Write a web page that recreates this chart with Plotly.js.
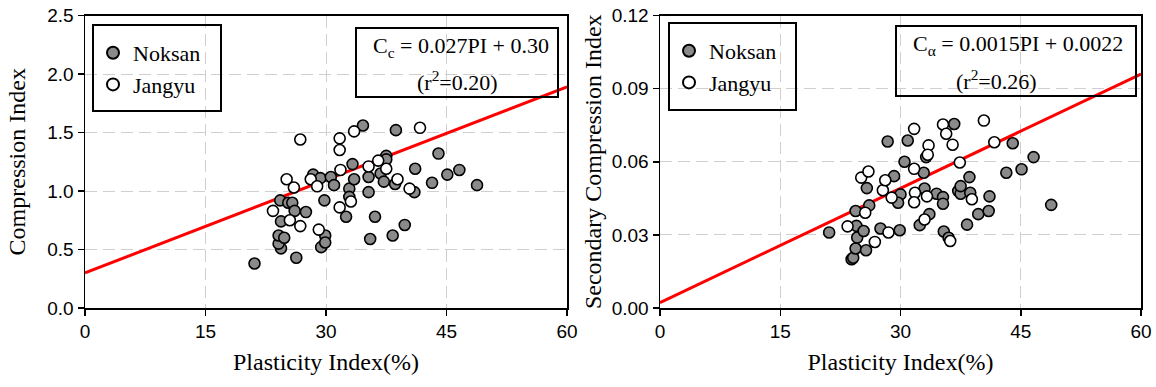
<!DOCTYPE html>
<html><head><meta charset="utf-8">
<script src="https://cdn.plot.ly/plotly-3.0.1.min.js"></script>
<style>html,body{margin:0;padding:0;background:#fff}#chart{width:1156px;height:387px}</style>
</head><body><div id="chart"></div>
<script>
// ---- Data ----
const ccNoksanPI = [21.1,26.3,24.4,24.1,24.1,24.8,24.4,24.3,25.3,25.8,26.1,27.5,28.4,29.3,29.8,29.9,29.4,29.9,30.6,31.0,32.5,32.9,32.9,33.3,33.5,34.6,35.3,35.3,35.5,36.1,36.8,37.2,37.5,37.5,38.6,38.7,38.3,39.8,41.1,41.0,43.2,44.0,45.1,46.6,48.8];
const ccNoksan   = [0.38,0.43,0.51,0.55,0.62,0.60,0.74,0.92,0.90,0.90,0.83,0.82,1.14,1.11,0.92,0.62,0.52,0.56,1.12,1.05,0.78,1.02,0.95,1.23,1.10,1.56,1.12,0.99,0.59,0.78,1.15,1.08,1.30,1.27,1.06,1.52,0.62,0.71,1.19,0.99,1.07,1.32,1.14,1.18,1.05];
const ccJangyuPI = [23.4,25.1,26.0,25.5,26.8,26.8,28.1,28.9,29.1,31.7,31.7,31.8,31.7,33.1,33.5,35.3,36.5,37.5,38.9,40.4,41.7];
const ccJangyu   = [0.83,1.10,1.03,0.75,0.70,1.44,1.10,1.04,0.67,1.45,1.35,1.18,0.86,0.91,1.51,1.21,1.26,1.19,1.10,1.02,1.54];

const caNoksanPI = [21.1,23.9,24.1,24.4,24.6,24.5,24.4,25.4,25.7,25.8,26.1,27.5,28.4,29.2,30.0,29.7,29.9,30.5,30.9,32.4,32.9,33.0,33.2,33.6,34.5,35.3,35.3,35.4,36.0,36.7,37.2,37.5,37.5,38.6,38.7,38.3,39.7,41.0,41.1,43.2,44.0,45.1,46.6,48.8];
const caNoksan   = [0.0310,0.0200,0.0206,0.0244,0.0289,0.0337,0.0398,0.0316,0.0237,0.0492,0.0421,0.0326,0.0683,0.0541,0.0466,0.0432,0.0319,0.0600,0.0687,0.0340,0.0555,0.0490,0.0619,0.0385,0.0469,0.0455,0.0428,0.0314,0.0288,0.0755,0.0480,0.0469,0.0500,0.0537,0.0473,0.0342,0.0385,0.0398,0.0458,0.0555,0.0676,0.0569,0.0619,0.0423];
const caJangyuPI = [23.4,25.1,26.0,25.6,26.8,27.8,28.1,28.9,28.5,31.7,31.7,31.8,31.7,33.3,33.0,33.5,33.4,35.3,35.7,36.5,36.2,37.4,38.9,40.4,41.7];
const caJangyu   = [0.0335,0.0535,0.0560,0.0391,0.0271,0.0483,0.0524,0.0453,0.0310,0.0735,0.0571,0.0473,0.0434,0.0458,0.0363,0.0667,0.0629,0.0753,0.0715,0.0670,0.0275,0.0597,0.0446,0.0769,0.0680];

const fitPI = [0, 60];
const ccFit = [0.30, 1.89];
const caFit = [0.0022, 0.096];

const xTicks = [0, 15, 30, 45, 60];
const ccTicks = [0.0, 0.5, 1.0, 1.5, 2.0, 2.5];
const caTicks = [0.00, 0.03, 0.06, 0.09, 0.12];

// ---- Layout helpers ----
const W = 1156, H = 387;
const px = v => v / W;
const py = v => 1 - v / H;
const serif = '"Liberation Serif", "Times New Roman", serif';
const sans = '"Liberation Sans", Arial, sans-serif';
const gray = '#8a8a8a';
const mk = fill => ({size: 11, color: fill, line: {color: '#000', width: 1.6}});

const traces = [
  {x: fitPI, y: ccFit, mode: 'lines', line: {color: '#ff0000', width: 3}, xaxis: 'x', yaxis: 'y', showlegend: false, hoverinfo: 'skip'},
  {x: ccNoksanPI, y: ccNoksan, mode: 'markers', name: 'Noksan', marker: mk(gray), xaxis: 'x', yaxis: 'y', legend: 'legend'},
  {x: ccJangyuPI, y: ccJangyu, mode: 'markers', name: 'Jangyu', marker: mk('#ffffff'), xaxis: 'x', yaxis: 'y', legend: 'legend'},
  {x: fitPI, y: caFit, mode: 'lines', line: {color: '#ff0000', width: 3}, xaxis: 'x2', yaxis: 'y2', showlegend: false, hoverinfo: 'skip'},
  {x: caNoksanPI, y: caNoksan, mode: 'markers', name: 'Noksan', marker: mk(gray), xaxis: 'x2', yaxis: 'y2', legend: 'legend2'},
  {x: caJangyuPI, y: caJangyu, mode: 'markers', name: 'Jangyu', marker: mk('#ffffff'), xaxis: 'x2', yaxis: 'y2', legend: 'legend2'}
];

const xCommon = {
  range: [0, 60], tickvals: xTicks, ticktext: xTicks.map(String),
  showline: true, mirror: true, linecolor: '#000', linewidth: 1.5,
  ticks: 'outside', ticklen: 6, tickwidth: 1.5, tickcolor: '#000',
  showgrid: true, gridcolor: '#d2cdd0', gridwidth: 1, griddash: '12px,6px',
  zeroline: false, tickfont: {family: sans, size: 19, color: '#000'},
  title: {text: 'Plasticity Index(%)', font: {family: serif, size: 24, color: '#000'}, standoff: 12}
};
const yCommon = {
  showline: true, mirror: true, linecolor: '#000', linewidth: 1.5,
  ticks: 'outside', ticklen: 6, tickwidth: 1.5, tickcolor: '#000',
  showgrid: true, gridcolor: '#d2cdd0', gridwidth: 1, griddash: '12px,6px',
  zeroline: false, tickfont: {family: sans, size: 19, color: '#000'}
};
const yDom = [py(308), py(15.5)];

const legendCommon = {
  bgcolor: 'rgba(0,0,0,0)', borderwidth: 0,
  font: {family: serif, size: 22, color: '#000'},
  xanchor: 'left', yanchor: 'top', tracegroupgap: 0, itemsizing: 'constant'
};

const box = (x0, y0, x1, y1) => ({type: 'rect', xref: 'paper', yref: 'paper', x0: px(x0), x1: px(x1), y0: py(y1), y1: py(y0), line: {color: '#000', width: 2}, fillcolor: 'rgba(0,0,0,0)', layer: 'above'});
const note = (txt, x, y) => ({text: txt, xref: 'paper', yref: 'paper', x: px(x), y: py(y), xanchor: 'center', yanchor: 'middle', showarrow: false, font: {family: serif, size: 22, color: '#000'}});

const layout = {
  width: W, height: H, autosize: false,
  margin: {l: 0, r: 0, t: 0, b: 0, pad: 0},
  paper_bgcolor: '#fff', plot_bgcolor: '#fff',
  showlegend: true,
  xaxis: Object.assign({}, xCommon, {domain: [px(85), px(567)], anchor: 'y'}),
  yaxis: Object.assign({}, yCommon, {domain: yDom, anchor: 'x', range: [0, 2.5], tickvals: ccTicks, ticktext: ccTicks.map(v => v.toFixed(1)),
    title: {text: 'Compression Index', font: {family: serif, size: 24, color: '#000'}, standoff: 15}}),
  xaxis2: Object.assign({}, xCommon, {domain: [px(660), px(1141)], anchor: 'y2'}),
  yaxis2: Object.assign({}, yCommon, {domain: yDom, anchor: 'x2', range: [0, 0.12], tickvals: caTicks, ticktext: caTicks.map(v => v.toFixed(2)),
    title: {text: 'Secondary Compression Index', font: {family: serif, size: 24, color: '#000'}, standoff: 3}}),
  legend: Object.assign({}, legendCommon, {x: px(93), y: py(32)}),
  legend2: Object.assign({}, legendCommon, {x: px(669), y: py(30)}),
  shapes: [box(93, 25, 221, 111), box(356, 28, 558, 97), box(669, 23, 796, 110), box(896, 26, 1136, 96)],
  annotations: [
    note('C<sub>c</sub> = 0.027PI + 0.30', 461, 47),
    note('(r<sup>2</sup>=0.20)', 457, 81),
    note('C<sub>α</sub> = 0.0015PI + 0.0022', 1018, 45),
    note('(r<sup>2</sup>=0.26)', 997, 80)
  ]
};

Plotly.newPlot('chart', traces, layout, {staticPlot: true, displayModeBar: false});
</script></body></html>
